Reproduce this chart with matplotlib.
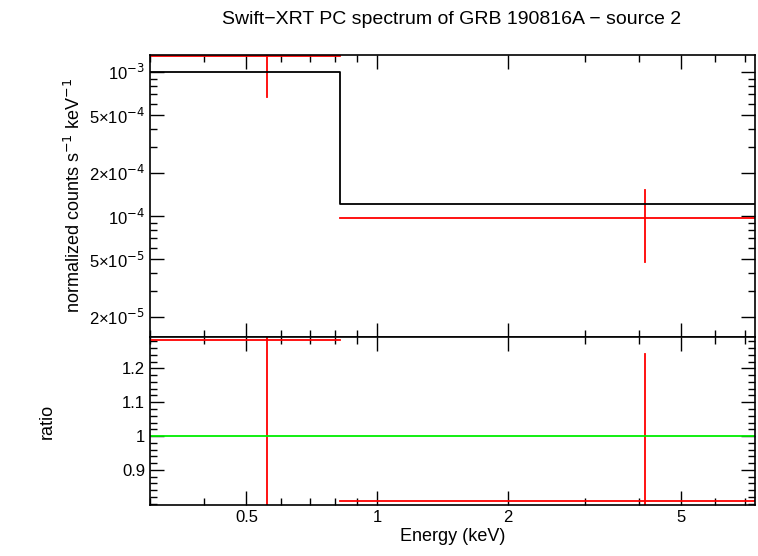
import matplotlib
matplotlib.use("Agg")
import matplotlib.pyplot as plt
from matplotlib.ticker import FixedLocator, NullFormatter

plt.rcParams["font.family"] = "Liberation Sans"

e_lo = [0.3, 0.82]
e_hi = [0.82, 7.4]
e_c = [0.558, 4.13]
rate = [1.29e-3, 0.97e-4]
rate_lo = [0.62e-3, 0.49e-4]
rate_hi = [0.6e-3, 0.55e-4]
model = [1.0e-3, 1.21e-4]
ratio = [1.284, 0.808]
ratio_lo = [0.6, 0.6]
ratio_hi = [0.6, 0.435]

fig = plt.figure(figsize=(7.58, 5.56), dpi=100)
ax1 = fig.add_axes([150/758, 1-337/556, 605/758, 282/556])
ax2 = fig.add_axes([150/758, 1-505/556, 605/758, 168/556], sharex=ax1)

for i in range(2):
    ax1.plot([e_lo[i], e_hi[i]], [rate[i]]*2, color="red", lw=1.3)
    ax1.plot([e_c[i]]*2, [rate[i]-rate_lo[i], rate[i]+rate_hi[i]], color="red", lw=1.3)
    ax2.plot([e_lo[i], e_hi[i]], [ratio[i]]*2, color="red", lw=1.3)
    ax2.plot([e_c[i]]*2, [ratio[i]-ratio_lo[i], ratio[i]+ratio_hi[i]], color="red", lw=1.3)
ax1.step([e_lo[0], e_lo[1], e_hi[1]], [model[0], model[1], model[1]], where="post", color="black", lw=1.3)
ax2.axhline(1.0, color="#00ee00", lw=1.3)

ax1.set_xscale("log"); ax1.set_yscale("log")
ax1.set_xlim(0.3, 7.4)
ax1.set_ylim(1.45e-5, 1.31e-3)
ax2.set_ylim(0.796, 1.293)

yt = [2e-5, 5e-5, 1e-4, 2e-4, 5e-4, 1e-3]
ytl = ["2×10$^{-5}$", "5×10$^{-5}$", "10$^{-4}$", "2×10$^{-4}$", "5×10$^{-4}$", "10$^{-3}$"]
ax1.yaxis.set_major_locator(FixedLocator(yt))
ax1.set_yticklabels(ytl)
ax1.yaxis.set_minor_formatter(NullFormatter())
xt = [0.5, 1, 2, 5]
ax2.xaxis.set_major_locator(FixedLocator(xt))
ax2.set_xticklabels(["0.5", "1", "2", "5"])
ax2.xaxis.set_minor_formatter(NullFormatter())
plt.setp(ax1.get_xticklabels(), visible=False)
ax2.set_yticks([0.9, 1.0, 1.1, 1.2])
ax2.set_yticklabels(["0.9", "1", "1.1", "1.2"])
ax2.yaxis.set_minor_locator(FixedLocator([0.8 + 0.02*i for i in range(25)]))

for ax in (ax1, ax2):
    ax.tick_params(which="both", direction="in", top=True, right=True, labelsize=12, width=1)
    ax.tick_params(which="major", length=10)
    ax.tick_params(which="minor", length=5)
    for s in ax.spines.values():
        s.set_linewidth(1.2)

ax1.set_ylabel("normalized counts s$^{-1}$ keV$^{-1}$", fontsize=13)
ax2.set_ylabel("ratio", fontsize=13, labelpad=48)
ax2.set_xlabel("Energy (keV)", fontsize=13, labelpad=2)
fig.text(452/758, 1-19/556, "Swift−XRT PC spectrum of GRB 190816A − source 2", ha="center", va="center", fontsize=14)
fig.savefig("out.png", dpi=100)
